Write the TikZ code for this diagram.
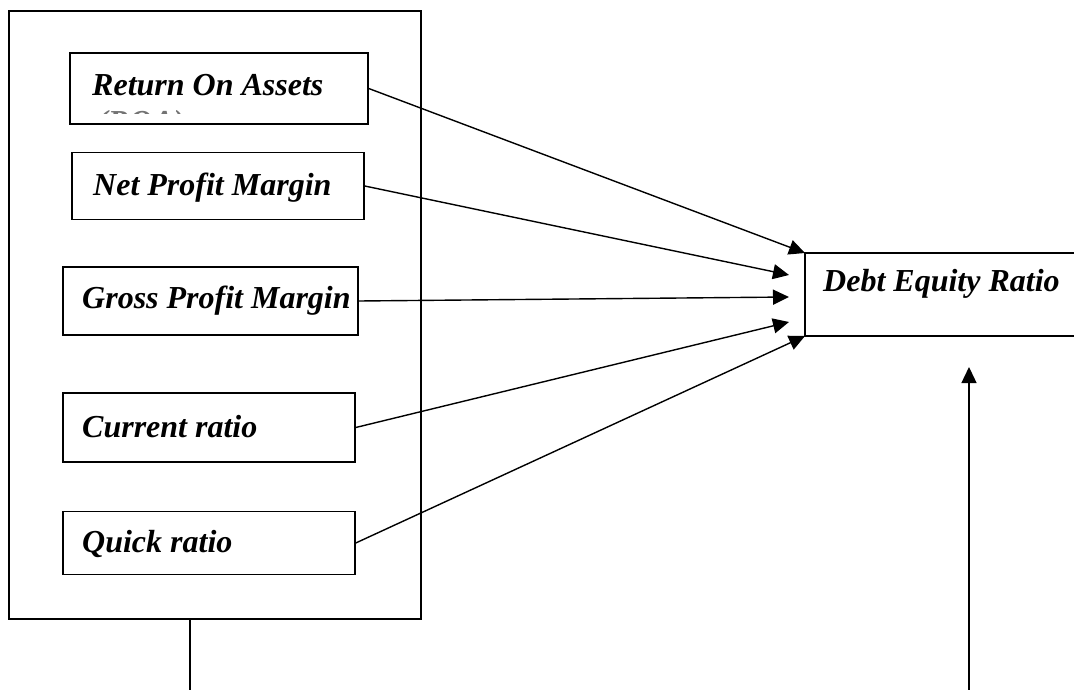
\documentclass[tikz,border=0pt]{standalone}
\usepackage{fontspec}
\setmainfont{Liberation Serif}
\usetikzlibrary{arrows.meta}
\begin{document}
\begin{tikzpicture}[x=1pt,y=-1pt,
  box/.style={draw,line width=1.5pt,inner sep=0pt},
  lbl/.style={anchor=base west,inner sep=0pt,font=\fontsize{32}{36}\selectfont\bfseries\itshape},
  conn/.style={line width=1.4pt,-{Triangle[length=16pt,width=15pt]}},
  plain/.style={line width=1.4pt}]
\useasboundingbox (0,0) rectangle (1074,690);
% outer frame
\node[box,minimum width=412pt,minimum height=608pt] (outer) at (215,315) {};
% inner boxes
\node[box,minimum width=298pt,minimum height=71pt] (b1) at (219,88.5) {};
\node[box,minimum width=292pt,minimum height=67pt] (b2) at (218,186) {};
\node[box,minimum width=295pt,minimum height=68pt] (b3) at (210.5,301) {};
\node[box,minimum width=292pt,minimum height=69pt] (b4) at (209,427.5) {};
\node[box,minimum width=292pt,minimum height=63pt] (b5) at (209,543) {};
\node[lbl] (t1) at (92,96) {Return On Assets};
\begin{scope}
\clip (90,111) rectangle (200,113.5);
\node[lbl,text=black!55] (t1b) at (97,133) {(ROA)};
\end{scope}
\node[lbl] (t2) at (93,196) {Net Profit Margin};
\node[lbl] (t3) at (82,308) {Gross Profit Margin};
\node[lbl] (t4) at (82,437) {Current ratio};
\node[lbl] (t5) at (82,552) {Quick ratio};
% Debt equity box (open on the right edge)
\coordinate (dtl) at (805,253);
\coordinate (dbl) at (805,336);
\coordinate (dtr) at (1080,253);
\coordinate (dbr) at (1080,336);
\draw[line width=1.5pt] (dtr) -- (dtl) -- (dbl) -- (dbr);
\node[lbl] (de) at (823,291) {Debt Equity Ratio};
\coordinate (e2) at (789,275);
\coordinate (e3) at (789,297);
\coordinate (e4) at (789,322);
\coordinate (dup) at (969,367);
\coordinate (dlow) at (969,690);
\coordinate (olow) at (190,690);
% connectors
\draw[conn] (b1.east) -- (dtl);
\draw[conn] (b2.east) -- (e2);
\draw[conn] (b3.east) -- (e3);
\draw[conn] (b4.east) -- (e4);
\draw[conn] (b5.east) -- (dbl);
\draw[conn] (dlow) -- (dup);
\draw[plain] (outer.south -| olow) -- (olow);
\end{tikzpicture}
\end{document}
